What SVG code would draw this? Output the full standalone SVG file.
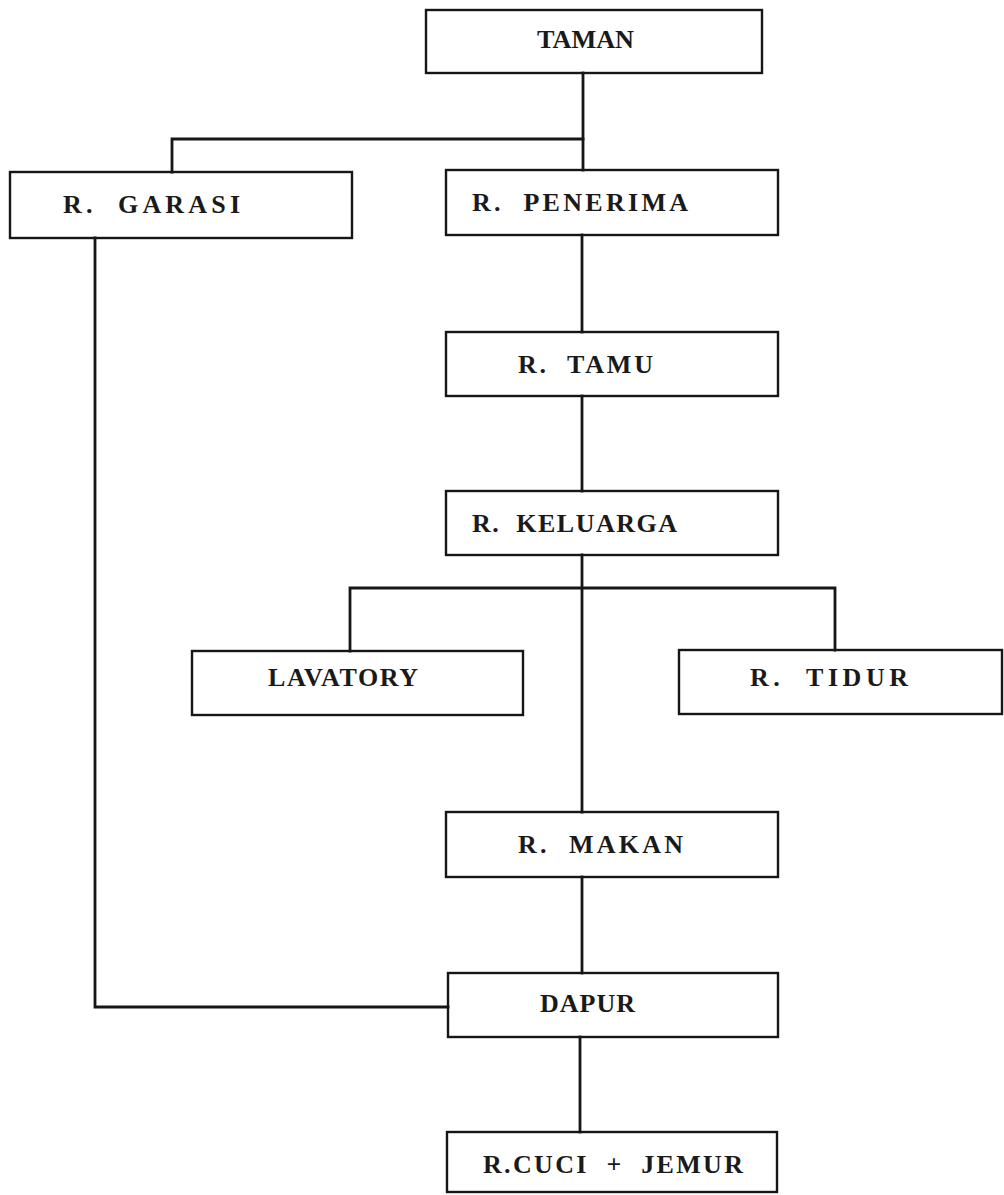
<svg xmlns="http://www.w3.org/2000/svg" width="1004" height="1195" viewBox="0 0 1004 1195">
  <style>
    .box { fill: none; stroke: #161616; stroke-width: 2.4; }
    .lbl { font-family: "Liberation Serif", "DejaVu Serif", serif; font-weight: bold; font-size: 26px; fill: #1a1a1a; }
    .wire { fill: none; stroke: #161616; stroke-width: 2.8; stroke-linecap: square; }
  </style>
  <rect width="1004" height="1195" fill="#ffffff"/>

  <!-- connectors between rooms -->
  <g id="connectors">
    <path class="wire" d="M583,73 V170"/>
    <path class="wire" d="M583,139 H172 V172"/>
    <path class="wire" d="M582,235 V332"/>
    <path class="wire" d="M582,396 V491"/>
    <path class="wire" d="M582,555 V812"/>
    <path class="wire" d="M350,651 V588 H835 V650"/>
    <path class="wire" d="M582,877 V973"/>
    <path class="wire" d="M580,1037 V1132"/>
    <path class="wire" d="M95,238 V1007 H448"/>
  </g>

  <g id="taman">
    <rect class="box" x="426" y="10" width="336" height="63"/>
    <text class="lbl" x="537" y="48" textLength="97" lengthAdjust="spacingAndGlyphs">TAMAN</text>
  </g>
  <g id="r-garasi">
    <rect class="box" x="10" y="172" width="342" height="66"/>
    <text class="lbl" x="63" y="213" textLength="177" lengthAdjust="spacing" xml:space="preserve">R.  GARASI</text>
  </g>
  <g id="r-penerima">
    <rect class="box" x="446" y="170" width="332" height="65"/>
    <text class="lbl" x="472" y="211" textLength="216" lengthAdjust="spacing" xml:space="preserve">R.  PENERIMA</text>
  </g>
  <g id="r-tamu">
    <rect class="box" x="446" y="332" width="332" height="64"/>
    <text class="lbl" x="518" y="373" textLength="135" lengthAdjust="spacing" xml:space="preserve">R.  TAMU</text>
  </g>
  <g id="r-keluarga">
    <rect class="box" x="446" y="491" width="332" height="64"/>
    <text class="lbl" x="472" y="532" textLength="205" lengthAdjust="spacing" xml:space="preserve">R.  KELUARGA</text>
  </g>
  <g id="lavatory">
    <rect class="box" x="192" y="651" width="331" height="64"/>
    <text class="lbl" x="268" y="686" textLength="150" lengthAdjust="spacing">LAVATORY</text>
  </g>
  <g id="r-tidur">
    <rect class="box" x="679" y="650" width="323" height="64"/>
    <text class="lbl" x="750" y="686" textLength="158" lengthAdjust="spacing" xml:space="preserve">R.  TIDUR</text>
  </g>
  <g id="r-makan">
    <rect class="box" x="446" y="812" width="332" height="65"/>
    <text class="lbl" x="518" y="853" textLength="165" lengthAdjust="spacing" xml:space="preserve">R.  MAKAN</text>
  </g>
  <g id="dapur">
    <rect class="box" x="448" y="973" width="330" height="64"/>
    <text class="lbl" x="540" y="1012" textLength="95" lengthAdjust="spacing">DAPUR</text>
  </g>
  <g id="r-cuci-jemur">
    <rect class="box" x="447" y="1132" width="330" height="60"/>
    <text class="lbl" x="483" y="1173" textLength="260" lengthAdjust="spacing" xml:space="preserve">R.CUCI  +  JEMUR</text>
  </g>
</svg>
